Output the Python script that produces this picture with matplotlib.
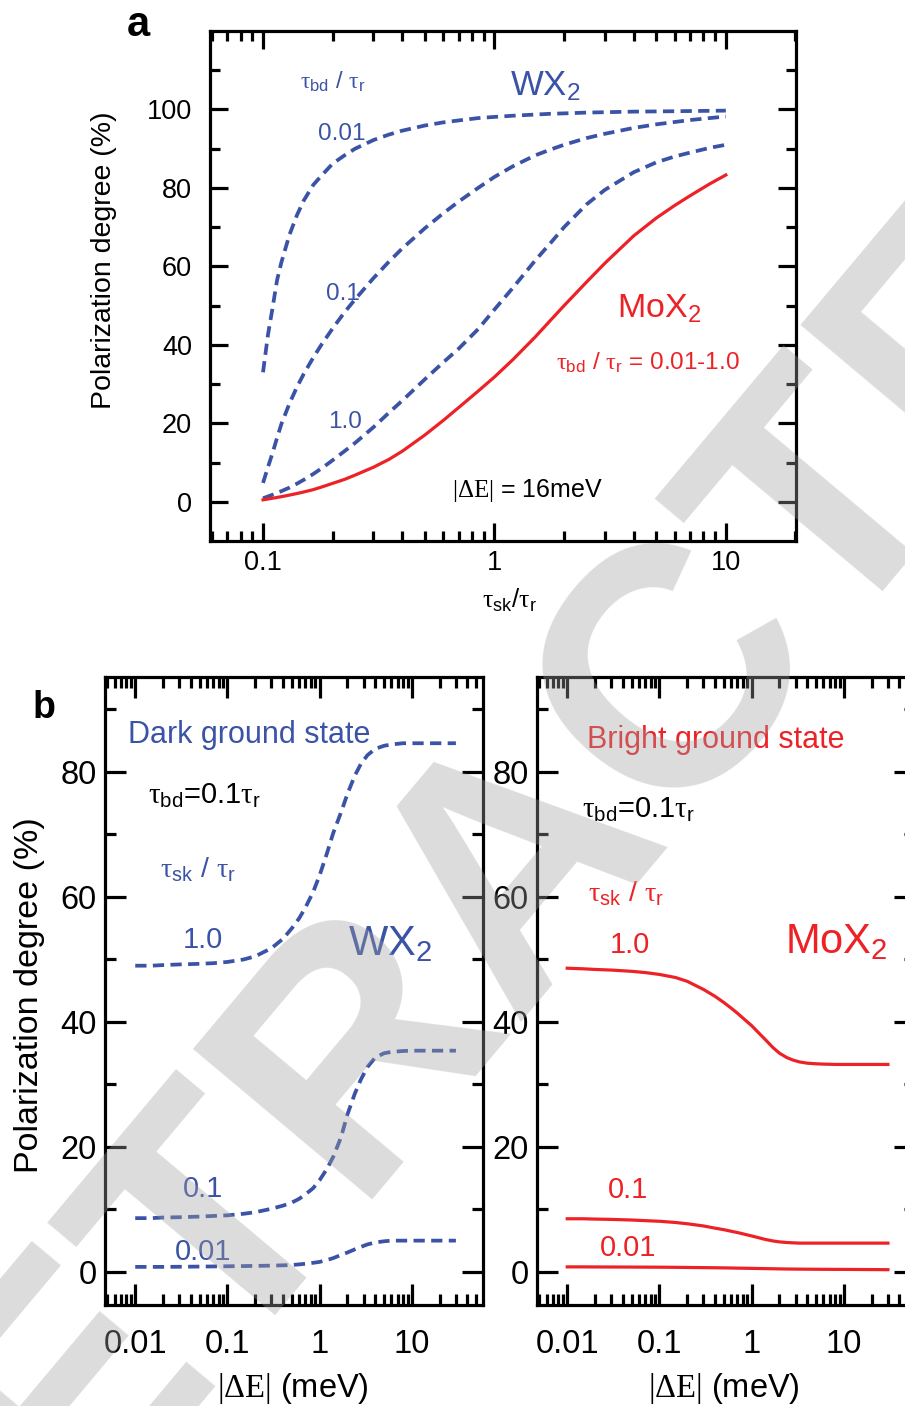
import matplotlib
matplotlib.use("Agg")
import matplotlib.pyplot as plt
from matplotlib.ticker import FixedLocator, LogLocator, NullFormatter, FuncFormatter

plt.rcParams['font.family'] = ['Liberation Sans', 'DejaVu Sans']
plt.rcParams['mathtext.fontset'] = 'custom'
plt.rcParams['mathtext.rm'] = 'Liberation Serif'
plt.rcParams['mathtext.sf'] = 'Liberation Sans'
plt.rcParams['mathtext.it'] = 'Liberation Sans:italic'
plt.rcParams['mathtext.bf'] = 'Liberation Sans:bold'

BLUE = '#3b53a6'
RED = '#ec2226'

# ---- panel a: polarization vs tau_sk/tau_r, |dE| = 16 meV
tau_sk = [0.1, 0.105, 0.11, 0.115, 0.12, 0.13, 0.14, 0.15, 0.165, 0.18, 0.2, 0.225,
          0.25, 0.3, 0.35, 0.4, 0.5, 0.6, 0.7, 0.85, 1, 1.2, 1.5, 1.75, 2, 2.5,
          3, 4, 5, 6, 7, 8.5, 10]
wx2_bd001 = [33, 42.5, 49.5, 56.5, 61, 68, 73, 76.8, 80.8, 83.3, 86.2, 88.3,
             90, 92.2, 93.6, 94.6, 95.9, 96.7, 97.2, 97.8, 98.1, 98.4, 98.7, 98.9, 99, 99.2,
             99.3, 99.45, 99.5, 99.55, 99.6, 99.65, 99.7]
wx2_bd01 = [4.8, 8.8, 12.5, 16.3, 19.8, 25, 29.2, 32.6, 36.8, 40.3, 44.2, 48.3,
            51.6, 57, 61.2, 64.6, 69.7, 73.5, 76.5, 80, 82.8, 85.5, 88.3, 89.8, 91, 92.7,
            93.8, 95.3, 96.2, 96.8, 97.3, 97.8, 98.2]
wx2_bd1 = [0.9, 1.35, 1.8, 2.25, 2.7, 3.6, 4.6, 5.6, 7.1, 8.6, 10.6, 12.9,
           15, 19, 22.7, 25.8, 31.2, 35.5, 39, 44, 49, 54.5, 61.5, 66, 70, 75.8,
           79.5, 84, 86.5, 88, 89, 90.2, 91]
mox2 = [0.5, 0.7, 0.9, 1.1, 1.3, 1.7, 2.1, 2.5, 3.1, 3.8, 4.7, 5.7,
        6.8, 8.8, 10.8, 12.9, 17, 20.7, 24, 28.2, 31.8, 36.2, 42, 46.3, 50, 56,
        60.8, 67.8, 72.3, 75.5, 78, 81, 83.3]

# ---- panel b: polarization vs |dE| (meV), tau_bd = 0.1 tau_r
dE = [0.01, 0.015, 0.02, 0.03, 0.05, 0.07, 0.1, 0.15, 0.2, 0.3, 0.4, 0.5, 0.6, 0.7,
      0.85, 1, 1.2, 1.4, 1.7, 2, 2.4, 2.8, 3.3, 4, 5, 6, 8, 10, 15, 20, 30]
dark_sk1 = [49, 49, 49.1, 49.2, 49.3, 49.4, 49.6, 50, 50.5, 51.8, 53.3, 55, 56.6, 58.3,
            60.8, 63.5, 67, 70.2, 73.5, 76.5, 79.4, 81.3, 82.7, 83.7, 84.2, 84.4, 84.6,
            84.6, 84.6, 84.6, 84.6]
dark_sk01 = [8.6, 8.6, 8.7, 8.75, 8.85, 8.95, 9.05, 9.3, 9.55, 10.1, 10.6, 11.1, 11.7, 12.4,
             13.4, 14.7, 16.5, 18.4, 21.5, 25.2, 28.5, 30.8, 32.8, 34.3, 35, 35.2, 35.35,
             35.4, 35.4, 35.4, 35.4]
dark_sk001 = [0.8, 0.8, 0.8, 0.82, 0.85, 0.87, 0.9, 0.93, 0.96, 1.0, 1.05, 1.1, 1.2, 1.3,
              1.45, 1.6, 1.9, 2.2, 2.7, 3.1, 3.6, 4.0, 4.4, 4.7, 4.9, 5.0, 5.0,
              5.0, 5.0, 5.0, 5.0]
bright_sk1 = [48.6, 48.5, 48.4, 48.3, 48.1, 47.9, 47.6, 47.1, 46.5, 45.2, 44.1, 43.1, 42.2, 41.4,
              40.3, 39.4, 38.2, 37.2, 35.9, 35, 34.3, 33.9, 33.6, 33.4, 33.3, 33.25, 33.2,
              33.2, 33.2, 33.2, 33.2]
bright_sk01 = [8.5, 8.5, 8.45, 8.4, 8.3, 8.2, 8.1, 7.9, 7.7, 7.35, 7.0, 6.75, 6.5, 6.3,
               6.0, 5.75, 5.45, 5.2, 4.95, 4.8, 4.7, 4.65, 4.6, 4.6, 4.6, 4.6, 4.6,
               4.6, 4.6, 4.6, 4.6]
bright_sk001 = [0.8, 0.8, 0.79, 0.78, 0.77, 0.76, 0.75, 0.73, 0.71, 0.68, 0.66, 0.64, 0.62, 0.6,
                0.58, 0.56, 0.54, 0.52, 0.5, 0.48, 0.46, 0.45, 0.44, 0.43, 0.42, 0.41, 0.4,
                0.4, 0.38, 0.37, 0.35]

W, H = 905, 1406
fig = plt.figure(figsize=(W / 100, H / 100), dpi=100)


def box(l, t, r, b):
    return [l / W, 1 - b / H, (r - l) / W, (b - t) / H]


def put(x, y, s, **kw):
    kw.setdefault('ha', 'left')
    kw.setdefault('va', 'baseline')
    fig.text(x / W, 1 - y / H, s, **kw)


def style(ax, xmaj, lab, xpad, ypad):
    for sp in ax.spines.values():
        sp.set_linewidth(2.3)
    ax.set_xscale('log')
    ax.xaxis.set_major_locator(FixedLocator(xmaj))
    ax.xaxis.set_minor_locator(LogLocator(base=10, subs=range(2, 10), numticks=20))
    ax.xaxis.set_major_formatter(FuncFormatter(lambda v, p: f'{v:g}'))
    ax.xaxis.set_minor_formatter(NullFormatter())
    ax.tick_params(which='both', direction='in', top=True, right=True, width=2.3)
    ax.tick_params(which='major', length=13)
    ax.tick_params(which='minor', length=7)
    ax.tick_params(axis='x', which='major', labelsize=lab, pad=xpad)
    ax.tick_params(axis='y', which='major', labelsize=lab, pad=ypad)


dash = dict(color=BLUE, lw=2.7, ls=(0, (3, 1.7)))
solid = dict(color=RED, lw=2.3)

# ---------------- panel a
axa = fig.add_axes(box(210, 31, 796, 541))
axa.plot(tau_sk, wx2_bd001, **dash)
axa.plot(tau_sk, wx2_bd01, **dash)
axa.plot(tau_sk, wx2_bd1, **dash)
axa.plot(tau_sk, mox2, **solid)
axa.set_xlim(0.059, 20.1)
axa.set_ylim(-10, 120)
style(axa, [0.1, 1, 10], 19.5, 6.5, 13)
axa.yaxis.set_major_locator(FixedLocator([0, 20, 40, 60, 80, 100]))
axa.yaxis.set_minor_locator(FixedLocator([10, 30, 50, 70, 90, 110]))

put(127, 36, 'a', fontsize=30, weight='bold')
put(300, 88, r'$\mathrm{τ}_{\mathsf{bd}}$ / $\mathrm{τ}_{\mathsf{r}}$', fontsize=17, color=BLUE)
put(318, 140, '0.01', fontsize=17.5, color=BLUE)
put(510, 95, r'WX$_\mathsf{2}$', fontsize=25, color=BLUE)
put(326, 300, '0.1', fontsize=17.5, color=BLUE)
put(328, 428, '1.0', fontsize=17.5, color=BLUE)
put(617, 318, r'MoX$_\mathsf{2}$', fontsize=24.5, color=RED)
put(556, 369, r'$\mathrm{τ}_{\mathsf{bd}}$ / $\mathrm{τ}_{\mathsf{r}}$ = 0.01-1.0', fontsize=17.5, color=RED)
put(452, 497, r'$\mathrm{|ΔE|}$ = 16meV', fontsize=18)
put(482, 608, r'$\mathrm{τ}_{\mathsf{sk}}$/$\mathrm{τ}_{\mathsf{r}}$', fontsize=18.5)
put(104, 260, 'Polarization degree (%)', fontsize=20.5, rotation=90, ha='center', va='center')

# ---------------- panel b (left: WX2, dark ground state)
axl = fig.add_axes(box(105, 677, 483, 1305))
axl.plot(dE, dark_sk1, **dash)
axl.plot(dE, dark_sk01, **dash)
axl.plot(dE, dark_sk001, **dash)

# ---------------- panel b (right: MoX2, bright ground state)
axr = fig.add_axes(box(537, 677, 915, 1305))
axr.plot(dE, bright_sk1, **solid)
axr.plot(dE, bright_sk01, **solid)
axr.plot(dE, bright_sk001, **solid)

for ax in (axl, axr):
    ax.set_xlim(0.0047, 59)
    ax.set_ylim(-5.3, 95.2)
    style(ax, [0.01, 0.1, 1, 10], 23.5, 17, 6)
    ax.yaxis.set_major_locator(FixedLocator([0, 20, 40, 60, 80]))
    ax.yaxis.set_minor_locator(FixedLocator([10, 30, 50, 70, 90]))
    ax.tick_params(which='major', length=15)
    ax.tick_params(which='minor', length=8)

put(33, 718, 'b', fontsize=27, weight='bold')
put(128, 743, 'Dark ground state', fontsize=22, color=BLUE)
put(148, 803, r'$\mathrm{τ}_{\mathsf{bd}}$=0.1$\mathrm{τ}_{\mathsf{r}}$', fontsize=21)
put(160, 878, r'$\mathrm{τ}_{\mathsf{sk}}$ / $\mathrm{τ}_{\mathsf{r}}$', fontsize=20.5, color=BLUE)
put(183, 948, '1.0', fontsize=21, color=BLUE)
put(348, 955, r'WX$_\mathsf{2}$', fontsize=30, color=BLUE)
put(183, 1197, '0.1', fontsize=21, color=BLUE)
put(175, 1260, '0.01', fontsize=21, color=BLUE)

put(587, 748, 'Bright ground state', fontsize=22, color=RED)
put(582, 817, r'$\mathrm{τ}_{\mathsf{bd}}$=0.1$\mathrm{τ}_{\mathsf{r}}$', fontsize=21)
put(588, 902, r'$\mathrm{τ}_{\mathsf{sk}}$ / $\mathrm{τ}_{\mathsf{r}}$', fontsize=20.5, color=RED)
put(610, 953, '1.0', fontsize=21, color=RED)
put(785, 953, r'MoX$_\mathsf{2}$', fontsize=30, color=RED)
put(608, 1198, '0.1', fontsize=21, color=RED)
put(600, 1256, '0.01', fontsize=21, color=RED)

put(217, 1397, r'$\mathrm{|ΔE|}$ (meV)', fontsize=23.5)
put(648, 1397, r'$\mathrm{|ΔE|}$ (meV)', fontsize=23.5)
put(30, 995, 'Polarization degree (%)', fontsize=24.5, rotation=90, ha='center', va='center')

# watermark
fig.text(520 / W, 1 - 860 / H, 'RETRACTED', rotation=50, ha='center', va='center',
         fontsize=245, weight='bold', color='#a0a0a0', alpha=0.37, zorder=100)

fig.savefig('out.png', dpi=100)
